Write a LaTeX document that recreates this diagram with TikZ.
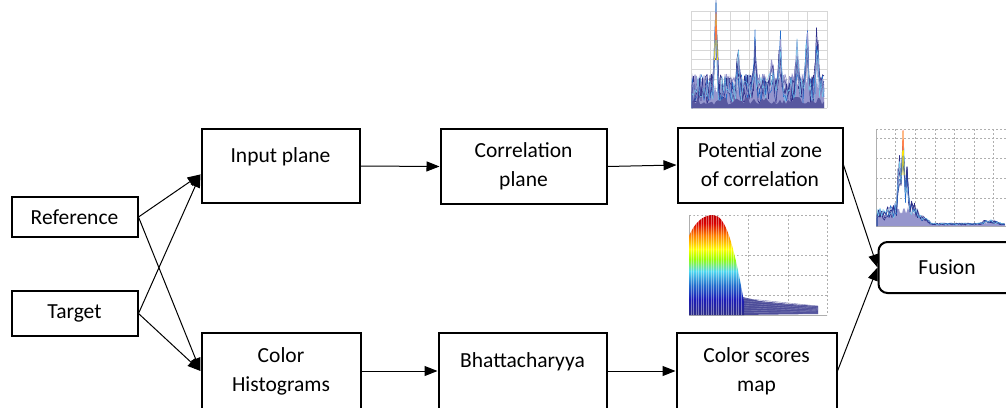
\documentclass[tikz,border=0pt]{standalone}
\usepackage{fontspec}
\setmainfont{Carlito}
\usetikzlibrary{arrows.meta}

\definecolor{navyplot}{RGB}{45,45,135}
\definecolor{lavplot}{RGB}{150,150,205}
\definecolor{blueplot}{RGB}{35,110,205}
\definecolor{cyanplot}{RGB}{115,200,235}
\definecolor{gridgray}{RGB}{175,175,175}

\pgfdeclareverticalshading{heatfall}{100bp}{color(0bp)=(navyplot); color(25bp)=(navyplot); color(33bp)=(navyplot!60!blue); color(40bp)=(blueplot); color(47bp)=(cyanplot!70!cyan); color(53bp)=(green!40!yellow); color(58bp)=(yellow); color(65bp)=(orange); color(71bp)=(red!85!black); color(75bp)=(red!75!black); color(100bp)=(red!75!black)}

\pgfmathdeclarefunction{tri}{3}{\pgfmathparse{max(0,1-abs(#1-#2)/#3)}}

\begin{document}
\begin{tikzpicture}[x=1pt,y=-1pt,
  blockbox/.style={draw, line width=2pt, align=center, inner sep=0pt, font=\fontsize{21.5pt}{29pt}\selectfont},
  single/.style={text depth=21pt},
  link/.style={line width=1pt, -{Triangle[length=13pt,width=10pt]}},
  gridline/.style={gridgray, line width=0.5pt, dash pattern=on 2pt off 2pt}]

  \useasboundingbox (0,0) rectangle (1006,407);
  \clip (0,0) rectangle (1006,407);
  \fill[white] (0,0) rectangle (1006,407);

  % top plot
  \pgfmathsetseed{11}
  \foreach \k in {0,...,7} \draw[gridgray!50, line width=0.5pt] (691+\k*19.43,11) -- ++(0,97);
  \foreach \k in {0,...,10} \draw[gridgray!50, line width=0.5pt] (691,11+\k*9.7) -- ++(136,0);
  \fill[lavplot] (692,108) \foreach \x in {692,693,...,824} { -- (\x,{108-14-22*rnd}) } -- (824,108) -- cycle;
  \foreach \c/\w in {lavplot/1.0, navyplot/0.7, lavplot/0.7, navyplot/0.6, blueplot/0.5, navyplot/0.5, lavplot/0.5, cyanplot/0.4}
    \draw[\c, line width=\w pt, line join=round] (692,108) \foreach \x in {692,693.5,...,824} {
      -- (\x, {108-4-30*rnd-(95*tri(\x,716,2.5)+70*tri(\x,780,2.5)+70*tri(\x,807,2.5)+62*tri(\x,817,2.5)+45*tri(\x,797,2.5)+45*tri(\x,755,2.5)+40*tri(\x,738,2.5)+30*tri(\x,772,2.5))*(0.4+0.6*rnd)}) };
  \fill[navyplot!80] (692,108) \foreach \x in {692,694,...,824} { -- (\x,{108-3-8*rnd}) } -- (824,108) -- cycle;
  \draw[yellow!85!orange, line width=0.6pt] (714.5,60) -- (716,14) -- (717.5,60);
  \draw[red!70, line width=0.5pt] (715.5,40) -- (716,12) -- (716.5,40);

  % right plot
  \foreach \k in {1,...,6} \draw[gridline] (876+\k*19.6,129) -- (876+\k*19.6,226);
  \foreach \gy in {129,138,158,178,198} \draw[gridline] (876,\gy) -- (1006,\gy);
  \draw[gridgray, line width=0.6pt] (876,129) -- (876,226) -- (1006,226);
  \fill[lavplot] (877,226) \foreach \x in {877,878,...,1005} { -- (\x,{226-1-2*rnd-(12*min(1,max(0,(932-\x)/16))+8*tri(\x,905,20)+3*tri(\x,990,12))*(0.5+0.5*rnd)}) } -- (1005,226) -- cycle;
  \foreach \c/\w in {navyplot/0.7, lavplot/0.7, navyplot/0.6, blueplot/0.5, navyplot/0.5, cyanplot/0.4}
    \draw[\c, line width=\w pt, line join=round] (877,226) \foreach \x in {877,878.5,...,1005} {
      -- (\x, {226-1-2*rnd-(16*min(1,max(0,(932-\x)/16))+12*tri(\x,905,20)+5*tri(\x,990,12))*(0.3+0.7*rnd)-(95*tri(\x,903,2.5)+60*tri(\x,899,2.5)+40*tri(\x,907,2.5))*(0.5+0.5*rnd)}) };
  \draw[yellow!85!orange, line width=0.6pt] (902,175) -- (903,131) -- (904,175);
  \draw[red!70, line width=0.5pt] (902.5,150) -- (903,130) -- (903.5,150);

  % middle plot
  \foreach \gx in {748,788,827} \draw[gridline] (\gx,215) -- (\gx,315);
  \foreach \gy in {215,255,275,295} \draw[gridline] (689,\gy) -- (827,\gy);
  \draw[gridgray, line width=0.6pt] (689,215) -- (689,315) -- (827,315);
  \fill[navyplot!85] (738,296) -- (760,301) -- (790,304) -- (818,306) -- (818,314) -- (738,315) -- cycle;
  \foreach \k in {0,...,6} \draw[navyplot!60, line width=0.4pt] (740,298+\k*2.4) -- (818,306+\k*1.2);
  \shade[shading=heatfall] (689,315) -- (689,236) .. controls (695,222) and (703,215) .. (713,215)
    .. controls (725,215) and (733,240) .. (744,302) -- (744,315) -- cycle;
  \foreach \gx in {691,693.5,...,742} \draw[white, opacity=0.4, line width=0.6pt] (\gx,214) -- (\gx,315);

  % blocks
  \node[blockbox, minimum width=126pt, minimum height=40pt] (ref) at (74.5,217) {Reference};
  \node[blockbox, minimum width=126pt, minimum height=45pt] (tgt) at (74.5,313.5) {Target};
  \node[blockbox, single, minimum width=158pt, minimum height=74pt] (inp) at (280.5,166) {Input plane};
  \node[blockbox, minimum width=159pt, minimum height=76pt] (hist) at (281,371) {Color\\Histograms};
  \node[blockbox, minimum width=166pt, minimum height=75pt] (cor) at (523.5,166.5) {Correlation\\plane};
  \node[blockbox, single, minimum width=168pt, minimum height=76pt] (bhat) at (522.5,371) {Bhattacharyya};
  \node[blockbox, minimum width=165pt, minimum height=75pt] (pot) at (760,165) {Potential zone\\of correlation};
  \node[blockbox, minimum width=160pt, minimum height=76pt] (scr) at (756.5,371) {Color scores\\map};
  \node[blockbox, rounded corners=9pt, minimum width=137pt, minimum height=51pt] (fus) at (947,267.5) {Fusion};

  \draw[link] (ref.east) -- (inp.186);
  \draw[link] (ref.east) -- (hist.west);
  \draw[link] (tgt.east) -- (inp.186);
  \draw[link] (tgt.east) -- (hist.west);
  \draw[link] (inp.east) -- (cor.west);
  \draw[link] (cor.east) -- (pot.west);
  \draw[link] (hist.east) -- (bhat.west);
  \draw[link] (bhat.east) -- (scr.west);
  \draw[link] (pot.east) -- (fus.west);
  \draw[link] (scr.east) -- (fus.west);
\end{tikzpicture}
\end{document}
